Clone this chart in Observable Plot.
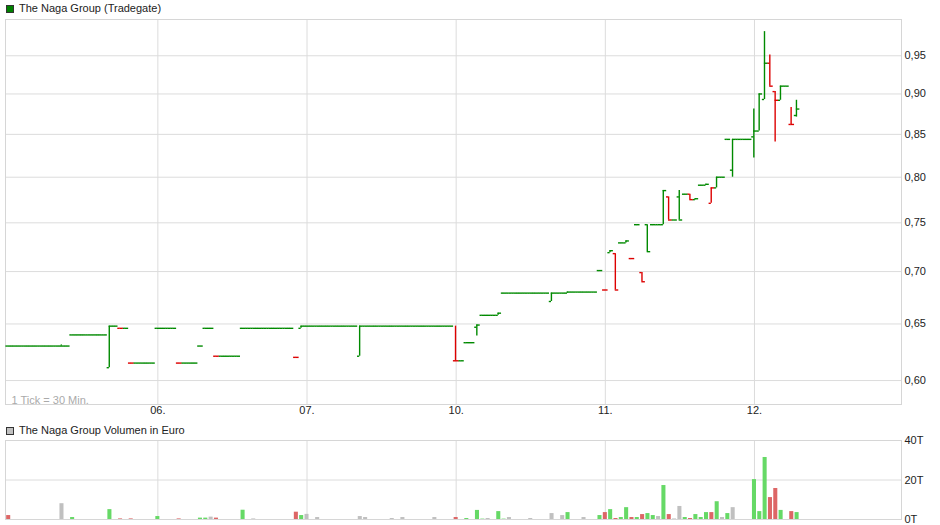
<!DOCTYPE html>
<html><head><meta charset="utf-8">
<script src="https://cdn.jsdelivr.net/npm/d3@7"></script>
<script src="https://cdn.jsdelivr.net/npm/@observablehq/plot@0.6"></script>
<style>
body{margin:0;background:#fff;font-family:"Liberation Sans",Arial,sans-serif;}
#wrap{position:relative;width:940px;height:525px;overflow:hidden;background:#fff;}
.ttl{position:absolute;left:6px;font-size:11px;line-height:13px;color:#222;display:flex;align-items:center;white-space:nowrap;}
.sw{display:inline-block;width:6px;height:6px;border:1px solid #333;margin-right:5px;}
#p1,#p2{position:absolute;left:0;}
#p1{top:0}#p2{top:420px}
</style></head><body>
<div id="wrap">
<div id="p1"></div><div id="p2"></div>
<div class="ttl" style="top:2px"><span class="sw" style="background:#008000"></span>The Naga Group (Tradegate)</div>
<div class="ttl" style="top:424px"><span class="sw" style="background:#c0c0c0"></span>The Naga Group Volumen in Euro</div>
</div>
<script>
// x axis: tick index (1 tick = 30 min, 28 ticks per trading day)
const dayTicks = [28, 56, 84, 112, 140];
const dayLabels = ["06.", "07.", "10.", "11.", "12."];
const priceTicks = [0.60, 0.65, 0.70, 0.75, 0.80, 0.85, 0.90, 0.95];
const volTicks = [0, 20, 40];

// close of every 30-min tick (index 0 = first tick of the 05.)
const closes = [
  0.630,0.630,0.630,0.630,0.630,0.630,0.630,0.630,0.630,0.630,0.630,0.630,
  0.640,0.640,0.640,0.640,0.640,0.640,0.640,
  0.648,0.648,0.646,0.646,0.615,0.615,0.615,0.615,0.615,
  0.646,0.646,0.646,0.646,0.615,0.615,0.615,0.615,0.630,0.646,0.646,
  0.621,0.621,0.621,0.621,0.621,
  0.646,0.646,0.646,0.646,0.646,0.646,0.646,0.646,0.646,0.646,0.620,0.648,
  0.648,0.648,0.648,0.648,0.648,0.648,0.648,0.648,0.648,0.648,0.648,
  0.648,0.648,0.648,0.648,0.648,0.648,0.648,0.648,0.648,0.648,0.648,0.648,0.648,0.648,0.648,0.648,0.648,
  0.617,0.617,0.633,0.633,0.649,0.658,0.658,0.658,0.660,
  0.679,0.679,0.679,0.679,0.679,0.679,0.679,0.679,0.679,0.679,0.679,0.679,
  0.680,0.680,0.680,0.680,0.680,0.680,0.701,
  0.682,0.721,0.682,0.729,0.731,0.713,0.748,0.690,0.720,0.748,0.748,0.785,
  0.753,0.753,0.753,0.781,0.775,0.776,0.791,0.792,0.788,0.800,0.800,0.844,0.844,0.844,0.844,0.844,
  0.854,0.900,0.940,0.910,0.892,0.910,0.910,0.862,0.881
];

// ticks whose open/high/low differ from the close
const wickTick = [10,19,55,66,84,88,92,102,105,113,114,116,119,120,123,124,126,128,129,131,132,133,136,140,141,142,143,144,145,147,148];
const wickOpen = [0.630,0.611,0.646,0.621,0.617,0.647,0.658,0.671,0.679,0.719,0.718,0.729,0.699,0.748,0.748,0.778,0.778,0.781,0.775,0.791,0.771,0.788,0.808,0.847,0.854,0.893,0.940,0.903,0.892,0.862,0.873];
const wickHigh = [0.631,0.648,0.648,0.648,0.648,0.649,0.660,0.679,0.680,0.721,0.718,0.731,0.699,0.748,0.785,0.778,0.785,0.781,0.776,0.792,0.788,0.800,0.844,0.881,0.900,0.983,0.951,0.903,0.910,0.883,0.892];
const wickLow  = [0.630,0.611,0.646,0.621,0.617,0.639,0.658,0.671,0.679,0.719,0.682,0.729,0.690,0.720,0.748,0.753,0.753,0.775,0.775,0.791,0.771,0.788,0.800,0.822,0.854,0.893,0.910,0.841,0.892,0.862,0.871];

// volume in thousand euro per tick; u = up, d = down, n = unchanged
const volTick = [0,10,12,19,21,23,28,32,36,37,38,39,44,46,54,55,56,58,66,67,72,74,80,84,86,88,89,90,92,93,94,98,102,104,105,108,111,112,113,114,115,116,117,118,119,120,121,122,123,124,125,126,127,128,129,130,131,132,133,134,135,136,140,141,142,143,144,145,147,148];
const volValue = [2,8,1,5,0.3,0.3,1.5,0.3,0.7,0.7,1.2,0.7,4.7,0.3,3.7,2,2.6,1,1.5,1,0.5,1,1,1,0.5,4.6,0.2,0.5,4,0.2,1,0.5,3,2,3.5,1,2,3.5,5,0.5,1,6,1,1,2.5,3,2,1.5,17.2,2.5,0.3,6.6,1,0.5,2.5,1,3.5,3.5,9,1,3,6,20.2,4,31.4,11.1,15.7,4.6,4,3.5];
const volDir = ["d","n","u","u","d","d","u","d","u","u","n","d","u","n","d","u","n","n","n","n","n","n","n","d","u","u","u","n","u","u","n","n","n","n","u","n","u","d","u","d","u","u","d","u","d","u","u","n","u","d","n","n","u","d","u","u","u","d","u","n","u","n","u","u","u","d","d","u","d","u"];

const xDomain = [-0.6, 167.6];
const font = '"Liberation Sans", Arial, sans-serif';
const green = "#008a00", red = "#dd0000";

// build bar table
const bars = [];
let prev = null;
closes.forEach((c, t) => {
  if (c == null) return;
  const k = wickTick.indexOf(t);
  const o = k >= 0 ? wickOpen[k] : c;
  const h = k >= 0 ? wickHigh[k] : c;
  const l = k >= 0 ? wickLow[k] : c;
  const dir = (prev != null && c < prev) ? "d" : "u";
  bars.push({t, o, h, l, c, dir});
  prev = c;
});
const vols = volTick.map((t, i) => ({t, v: volValue[i], dir: volDir[i]}));

const sw = 1.4;
const p1 = Plot.plot({
  width: 940, height: 420,
  marginTop: 19, marginBottom: 16, marginLeft: 5, marginRight: 39,
  x: {domain: xDomain, axis: null},
  y: {type: "log", domain: [0.58, 1.0], axis: null},
  color: {domain: ["u", "d"], range: [green, red]},
  style: {fontFamily: font, fontSize: "11px", background: "transparent", color: "#222"},
  marks: [
    Plot.ruleY(priceTicks, {stroke: "#dcdcdc", strokeOpacity: 1}),
    Plot.ruleX(dayTicks, {stroke: "#dcdcdc", strokeOpacity: 1}),
    Plot.frame({stroke: "#d6d6d6"}),
    Plot.axisY(priceTicks, {anchor: "right", label: null, tickSize: 0, tickPadding: 3, fill: "#222",
      tickFormat: d => d.toFixed(2).replace(".", ",")}),
    Plot.axisX(dayTicks, {anchor: "bottom", label: null, tickSize: 0, tickPadding: 2, fill: "#222",
      tickFormat: d => dayLabels[dayTicks.indexOf(d)]}),
    Plot.text(["1 Tick = 30 Min."], {frameAnchor: "bottom-left", dx: 6, dy: -1, fill: "#aaa", fontSize: 11}),
    Plot.ruleY(bars, {y: "o", x1: d => d.t - 0.52, x2: d => d.t - 0.1, stroke: "dir", strokeWidth: sw}),
    Plot.ruleY(bars, {y: "c", x1: d => d.t - 0.14, x2: d => d.t + 0.52, stroke: "dir", strokeWidth: sw}),
    Plot.ruleX(bars.filter(d => d.h > d.l), {x: d => d.t - 0.12, y1: "l", y2: "h", stroke: "dir", strokeWidth: sw})
  ]
});
document.getElementById("p1").appendChild(p1);

const p2 = Plot.plot({
  width: 940, height: 105,
  marginTop: 20, marginBottom: 6, marginLeft: 5, marginRight: 39,
  x: {domain: xDomain, axis: null},
  y: {domain: [0, 40], axis: null},
  color: {domain: ["u", "d", "n"], range: ["#66d966", "#dd6666", "#c0c0c0"]},
  style: {fontFamily: font, fontSize: "11px", background: "transparent", color: "#222"},
  marks: [
    Plot.ruleY(volTicks, {stroke: "#dcdcdc", strokeOpacity: 1}),
    Plot.ruleX(dayTicks, {stroke: "#dcdcdc", strokeOpacity: 1}),
    Plot.frame({stroke: "#d6d6d6"}),
    Plot.axisY(volTicks, {anchor: "right", label: null, tickSize: 0, tickPadding: 3, fill: "#222", tickFormat: d => d + "T"}),
    Plot.rect(vols, {x1: d => d.t - 0.38, x2: d => d.t + 0.38, y1: 0, y2: "v", fill: "dir"})
  ]
});
document.getElementById("p2").appendChild(p2);
</script>
</body></html>
